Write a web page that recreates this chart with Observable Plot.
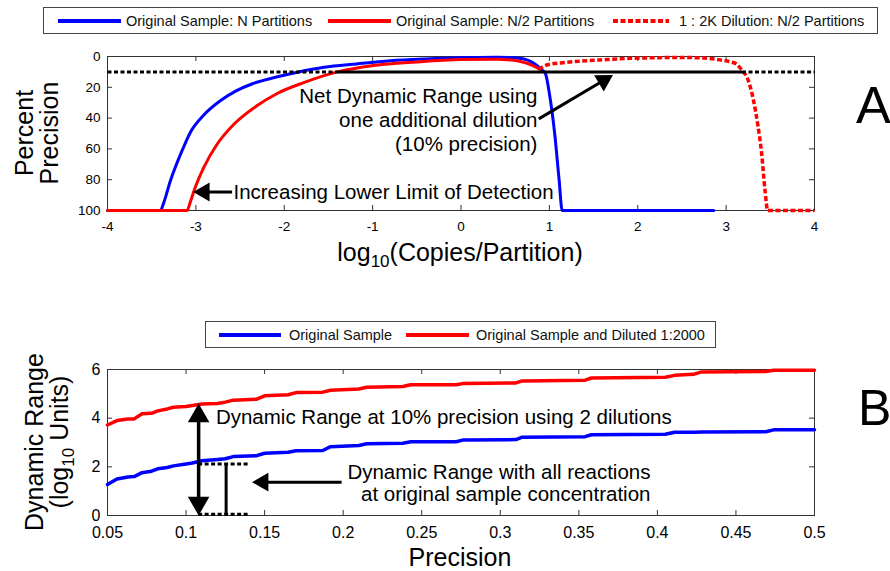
<!DOCTYPE html>
<html><head><meta charset="utf-8">
<script src="https://cdn.jsdelivr.net/npm/d3@7"></script>
<script src="https://cdn.jsdelivr.net/npm/@observablehq/plot@0.6"></script>
<style>
body{margin:0;background:#fff;font-family:"Liberation Sans",Arial,Helvetica,sans-serif;color:#000}
#wrap{position:relative;width:890px;height:571px;overflow:hidden;background:#fff}
#wrap > svg{position:absolute;left:0}
.legend{position:absolute;border:1px solid #444;background:#fff;box-sizing:border-box}
.sw{position:absolute;height:4px;top:11px}
.swd{position:absolute;top:11px;height:4px;overflow:visible}
.lt{position:absolute;font-size:14.5px;line-height:16px;top:5px;white-space:nowrap;color:#111}
.lab{position:absolute;font-size:25px;line-height:25px;white-space:nowrap;text-align:center}
.lab sub{font-size:17px;vertical-align:-0.35em;line-height:0}
.big{position:absolute;line-height:1;}
</style></head>
<body><div id="wrap">
  <div class="legend" style="left:43px;top:7px;width:835px;height:27px">
    <div class="sw" style="left:14px;width:63px;background:#0000ff"></div>
    <div class="lt" style="left:82px">Original Sample: N Partitions</div>
    <div class="sw" style="left:284px;width:63px;background:#ff0000"></div>
    <div class="lt" style="left:352px">Original Sample: N/2 Partitions</div>
    <svg class="swd" style="left:569px" width="56" height="4"><line x1="0" y1="2" x2="56" y2="2" stroke="#ff0000" stroke-width="4" stroke-dasharray="5,2.5"/></svg>
    <div class="lt" style="left:635px">1 : 2K Dilution: N/2 Partitions</div>
  </div>
  <div class="legend" style="left:205px;top:321px;width:511px;height:27px">
    <div class="sw" style="left:13px;width:62px;background:#0000ff"></div>
    <div class="lt" style="left:83px">Original Sample</div>
    <div class="sw" style="left:200px;width:63px;background:#ff0000"></div>
    <div class="lt" style="left:270px">Original Sample and Diluted 1:2000</div>
  </div>
  <div class="lab" style="left:37px;top:133px;transform:translate(-50%,-50%) rotate(-90deg)">Percent<br>Precision</div>
  <div class="lab" style="left:460px;top:240px;transform:translateX(-50%)">log<sub>10</sub>(Copies/Partition)</div>
  <div class="lab" style="left:47px;top:442px;transform:translate(-50%,-50%) rotate(-90deg)">Dynamic Range<br>(log<sub>10</sub> Units)</div>
  <div class="lab" style="left:460px;top:545px;transform:translateX(-50%)">Precision</div>
  <div class="big" style="left:856px;top:79px;font-size:52px">A</div>
  <div class="big" style="left:858px;top:383px;font-size:50px">B</div>
</div>
<script>
// ---------- Panel A data ----------
const xTicksA = [-4, -3, -2, -1, 0, 1, 2, 3, 4];
const yTicksA = [0, 20, 40, 60, 80, 100];
const nPartX = [-4, -3.40, -3.37, -3.287, -3.155, -3.06, -2.91, -2.72, -2.55, -2.36, -2.1, -1.85, -1.55, -1.18, -0.8, -0.4, 0, 0.4, 0.6, 0.7, 0.78, 0.85, 0.9, 0.955, 1.0, 1.06, 1.11, 1.145, 2.86];
const nPartY = [100, 100, 96, 80.5, 61, 49, 38, 28.6, 22.5, 17.7, 13.5, 10.2, 7, 4.8, 2.8, 1.6, 0.8, 0.5, 0.8, 1.5, 3, 5.5, 8, 11, 24, 50, 80, 100, 100];
const halfPartX = [-4, -3.10, -3.06, -3.02, -2.91, -2.76, -2.57, -2.31, -2.08, -1.78, -1.40, -0.99, -0.5, 0, 0.4, 0.6, 0.75, 0.9];
const halfPartY = [100, 100, 94, 87, 72, 57, 44, 32, 24, 17, 10, 5.8, 3.5, 2, 1.8, 2.5, 4.5, 8.5];
const dilutionX = [0.88, 0.97, 1.15, 1.35, 1.65, 1.92, 2.2, 2.48, 2.75, 2.93, 3.05, 3.12, 3.18, 3.24, 3.31, 3.36, 3.40, 3.44, 3.47, 4];
const dilutionY = [8.5, 5.5, 4, 3, 2, 1.2, 0.8, 0.6, 1, 2.2, 3.5, 5, 9, 14, 28.5, 45, 62, 87, 100, 100];
const thresholdA = 10;
const thresholdBreaks = [-4, -1.4, 3.18, 4];
const noteNet = {text: "Net Dynamic Range using\none additional dilution\n(10% precision)", x: 0.865, y: 41};
const arrowNet = {x1: 0.88, y1: 40.5, x2: 1.72, y2: 12};
const noteLod = {text: "Increasing Lower Limit of Detection", x: -2.575, y: 88};
const arrowLod = {x1: -2.59, y1: 88, x2: -3.03, y2: 88};

// ---------- Panel B data ----------
const xTicksB = [0.05, 0.1, 0.15, 0.2, 0.25, 0.3, 0.35, 0.4, 0.45, 0.5];
const yTicksB = [0, 2, 4, 6];
const precision = [0.05, 0.056, 0.063, 0.067, 0.072, 0.078, 0.082, 0.088, 0.092, 0.1, 0.104, 0.11, 0.12, 0.125, 0.13, 0.145, 0.15, 0.165, 0.17, 0.187, 0.192, 0.21, 0.215, 0.238, 0.243, 0.272, 0.276, 0.31, 0.314, 0.354, 0.358, 0.405, 0.411, 0.423, 0.428, 0.469, 0.474, 0.5];
const rangeDiluted = [3.72, 3.9, 3.97, 3.97, 4.18, 4.2, 4.3, 4.38, 4.45, 4.48, 4.52, 4.58, 4.6, 4.66, 4.74, 4.78, 4.92, 4.96, 5.05, 5.07, 5.15, 5.2, 5.27, 5.3, 5.37, 5.37, 5.42, 5.45, 5.53, 5.56, 5.65, 5.68, 5.76, 5.8, 5.9, 5.92, 5.97, 5.97];
const rangeOriginal = [1.27, 1.5, 1.58, 1.6, 1.76, 1.82, 1.92, 1.97, 2.04, 2.12, 2.16, 2.25, 2.3, 2.33, 2.42, 2.46, 2.56, 2.6, 2.66, 2.67, 2.83, 2.88, 2.95, 2.97, 3.03, 3.03, 3.1, 3.12, 3.22, 3.24, 3.32, 3.34, 3.42, 3.42, 3.43, 3.44, 3.52, 3.52];
const noteB1 = {text: "Dynamic Range at 10% precision using 2 dilutions", x: 0.119, y: 4.04};
const noteB2 = {text: "Dynamic Range with all reactions\nat original sample concentration", x: 0.3956, y: 1.35};
const arrowB2 = {x1: 0.199, y1: 1.37, x2: 0.142, y2: 1.37};
const spanDiluted = {x: 0.108, y1: 0, y2: 4.6};
const spanOriginal = {x: 0.1255, y1: 0.05, y2: 2.12, x1: 0.108, x2: 0.14};

// ---------- layout ----------
const W = 890;
const LA = {height: 280, top: 56, bottom: 70, left: 107, right: 76};
const LB = {height: 291, top: 89, bottom: 56, left: 107, right: 76};
const font = "'Liberation Sans', Arial, Helvetica, sans-serif";
const pts = (xs, ys) => xs.map((x, i) => ({x, y: ys[i]}));
const kxA = (W - LA.left - LA.right) / 8, kyA = (LA.height - LA.top - LA.bottom) / 100;
const kxB = (W - LB.left - LB.right) / 0.45, kyB = (LB.height - LB.top - LB.bottom) / 6;
function head(a, r, kx, ky, yDown) {
  const dx = (a.x2 - a.x1) * kx;
  const dy = (a.y2 - a.y1) * ky * (yDown ? 1 : -1);
  const L = Math.hypot(dx, dy), ux = dx / L, uy = dy / L, off = 1.555 * r;
  return {rotate: Math.atan2(ux, -uy) * 180 / Math.PI, dx: -ux * off, dy: -uy * off};
}
function arrowMarks(a, r, kx, ky, yDown, inset) {
  const h = head(a, r, kx, ky, yDown);
  return [
    Plot.arrow([a], {x1: "x1", y1: "y1", x2: "x2", y2: "y2", stroke: "black", strokeWidth: 3, headLength: 0, insetEnd: inset, strokeLinecap: "butt"}),
    Plot.dot([a], {x: "x2", y: "y2", symbol: "triangle", r, fill: "black", stroke: "none", rotate: h.rotate, dx: h.dx, dy: h.dy})
  ];
}
function inwardTicks(xt, yt, L) {
  const pw = W - L.left - L.right, ph = L.height - L.top - L.bottom;
  return [
    Plot.tickX(xt, {x: d => d, insetTop: ph - 5, stroke: "#333"}),
    Plot.tickX(xt, {x: d => d, insetBottom: ph - 5, stroke: "#333"}),
    Plot.tickY(yt, {y: d => d, insetRight: pw - 5, stroke: "#333"}),
    Plot.tickY(yt, {y: d => d, insetLeft: pw - 5, stroke: "#333"})
  ];
}

const segs = [];
for (let i = 0; i < thresholdBreaks.length - 1; i++) {
  segs.push({seg: i, pts: [{x: thresholdBreaks[i], y: thresholdA}, {x: thresholdBreaks[i + 1], y: thresholdA}]});
}

const plotA = Plot.plot({
  width: W, height: LA.height, marginTop: LA.top, marginBottom: LA.bottom, marginLeft: LA.left, marginRight: LA.right,
  style: {fontFamily: font, background: "transparent", overflow: "visible"},
  x: {domain: [-4, 4]},
  y: {domain: [0, 100], reverse: true},
  marks: [
    Plot.frame({stroke: "#333", strokeWidth: 1}),
    Plot.axisX(xTicksA, {tickSize: 0, tickPadding: 11, tickFormat: d => String(d), label: null, fontSize: 13.5}),
    Plot.axisY(yTicksA, {tickSize: 0, tickPadding: 7, tickFormat: d => String(d), label: null, fontSize: 13.5}),
    ...inwardTicks(xTicksA, yTicksA, LA),
    Plot.line(pts(nPartX, nPartY), {x: "x", y: "y", stroke: "#0000ff", strokeWidth: 3, curve: "monotone-x"}),
    Plot.line(pts(halfPartX, halfPartY), {x: "x", y: "y", stroke: "#ff0000", strokeWidth: 3, curve: "monotone-x"}),
    Plot.line(pts(dilutionX, dilutionY), {x: "x", y: "y", stroke: "#ff0000", strokeWidth: 3.5, strokeDasharray: "5,2.5", strokeLinecap: "butt", curve: "monotone-x"}),
    ...segs.map(s => Plot.line(s.pts, {x: "x", y: "y", stroke: "black", strokeWidth: 3, strokeLinecap: "butt", strokeDasharray: s.seg === 1 ? null : "4,2.5"})),
    Plot.text([noteNet], {x: "x", y: "y", text: "text", textAnchor: "end", fontSize: 20.5, lineHeight: 1.17, fill: "black"}),
    Plot.text([noteLod], {x: "x", y: "y", text: "text", textAnchor: "start", fontSize: 20.5, fill: "black"}),
    ...arrowMarks(arrowNet, 7, kxA, kyA, true, 11),
    ...arrowMarks(arrowLod, 7, kxA, kyA, true, 11)
  ]
});
plotA.style.top = "0px";

const upArrow = {x1: spanDiluted.x, y1: spanDiluted.y1, x2: spanDiluted.x, y2: spanDiluted.y2};
const downArrow = {x1: spanDiluted.x, y1: spanDiluted.y2, x2: spanDiluted.x, y2: spanDiluted.y1};
const hUp = head(upArrow, 8, kxB, kyB, false), hDown = head(downArrow, 8, kxB, kyB, false);
const plotB = Plot.plot({
  width: W, height: LB.height, marginTop: LB.top, marginBottom: LB.bottom, marginLeft: LB.left, marginRight: LB.right,
  style: {fontFamily: font, background: "transparent", overflow: "visible"},
  x: {domain: [0.05, 0.5]},
  y: {domain: [0, 6]},
  marks: [
    Plot.frame({stroke: "#333", strokeWidth: 1}),
    Plot.axisX(xTicksB, {tickSize: 0, tickPadding: 11, tickFormat: d => String(d), label: null, fontSize: 16}),
    Plot.axisY(yTicksB, {tickSize: 0, tickPadding: 7, tickFormat: d => String(d), label: null, fontSize: 16}),
    ...inwardTicks(xTicksB, yTicksB, LB),
    Plot.line(pts(precision, rangeOriginal), {x: "x", y: "y", stroke: "#0000ff", strokeWidth: 3.5}),
    Plot.line(pts(precision, rangeDiluted), {x: "x", y: "y", stroke: "#ff0000", strokeWidth: 3.5}),
    Plot.ruleY([spanOriginal.y1, spanOriginal.y2], {y: d => d, x1: spanOriginal.x1, x2: spanOriginal.x2, stroke: "black", strokeWidth: 3, strokeLinecap: "butt", strokeDasharray: "4,2.5"}),
    Plot.ruleX([spanOriginal], {x: "x", y1: "y1", y2: "y2", stroke: "black", strokeWidth: 3}),
    Plot.arrow([upArrow], {x1: "x1", y1: "y1", x2: "x2", y2: "y2", stroke: "black", strokeWidth: 3.5, headLength: 0, insetStart: 12, insetEnd: 12, strokeLinecap: "butt"}),
    Plot.dot([upArrow], {x: "x2", y: "y2", symbol: "triangle", r: 8, fill: "black", stroke: "none", rotate: hUp.rotate, dx: hUp.dx, dy: hUp.dy}),
    Plot.dot([downArrow], {x: "x2", y: "y2", symbol: "triangle", r: 8, fill: "black", stroke: "none", rotate: hDown.rotate, dx: hDown.dx, dy: hDown.dy}),
    ...arrowMarks(arrowB2, 7, kxB, kyB, false, 11),
    Plot.text([noteB1], {x: "x", y: "y", text: "text", textAnchor: "start", fontSize: 20.5, fill: "black"}),
    Plot.text([noteB2], {x: "x", y: "y", text: "text", textAnchor: "end", fontSize: 20.5, lineHeight: 1.09, fill: "black"})
  ]
});
plotB.style.top = "280px";

const wrap = document.getElementById("wrap");
wrap.insertBefore(plotB, wrap.firstChild);
wrap.insertBefore(plotA, wrap.firstChild);
</script>
</body></html>
